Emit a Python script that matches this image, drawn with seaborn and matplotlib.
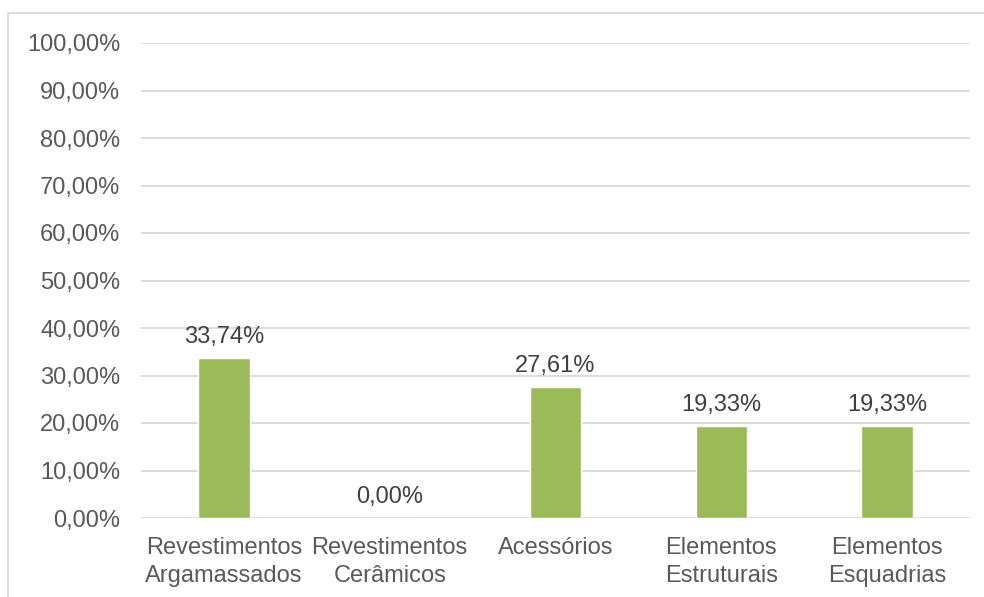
import matplotlib
matplotlib.use("Agg")
import matplotlib.pyplot as plt
from matplotlib.patches import Rectangle
from matplotlib.ticker import FuncFormatter, MultipleLocator
import seaborn as sns
import pandas as pd

categories = ["Revestimentos\nArgamassados", "Revestimentos\nCerâmicos", "Acessórios",
              "Elementos\nEstruturais", "Elementos\nEsquadrias"]
values = [33.74, 0.00, 27.61, 19.33, 19.33]

sns.set_theme(style="white")
plt.rcParams["font.family"] = ["Liberation Sans", "DejaVu Sans"]

TEXT = "#595959"
GRID = "#D9D9D9"
BAR = "#9BBB59"
FS = 17

df = pd.DataFrame({"cat": categories, "val": values})

fig = plt.figure(figsize=(9.84, 5.97), dpi=100)
ax = fig.add_axes([141 / 984, 1 - 518 / 597, (970 - 141) / 984, (518 - 43) / 597])

sns.barplot(data=df, x="cat", y="val", color=BAR, saturation=1, width=0.31, ax=ax, zorder=3)

ax.set_ylim(0, 100)
ax.set_xlim(-0.5, len(categories) - 0.5)
ax.yaxis.set_major_locator(MultipleLocator(10))
ax.yaxis.set_major_formatter(FuncFormatter(lambda v, p: f"{v:.2f}".replace(".", ",") + "%"))
ax.grid(axis="y", color=GRID, linewidth=1.3, zorder=0)
ax.grid(axis="x", visible=False)
for s in ax.spines.values():
    s.set_visible(False)
ax.tick_params(axis="both", length=0, colors=TEXT, labelsize=FS)
ax.tick_params(axis="y", pad=15)
ax.tick_params(axis="x", pad=14)
ax.set_xlabel("")
ax.set_ylabel("")
for lbl in ax.get_xticklabels():
    lbl.set_linespacing(1.3)

for bar, v in zip(ax.patches, values):
    ax.annotate(f"{v:.2f}".replace(".", ",") + "%",
                (bar.get_x() + bar.get_width() / 2, v),
                xytext=(0, 7), textcoords="offset points",
                ha="center", va="bottom", color="#404040", fontsize=FS)

fig.patches.append(Rectangle((8 / 984, -0.1), 1.1, 1 - 13 / 597 + 0.1,
                             transform=fig.transFigure, fill=False,
                             edgecolor=GRID, linewidth=1.3))

fig.savefig("out.png", dpi=100, facecolor="white")
